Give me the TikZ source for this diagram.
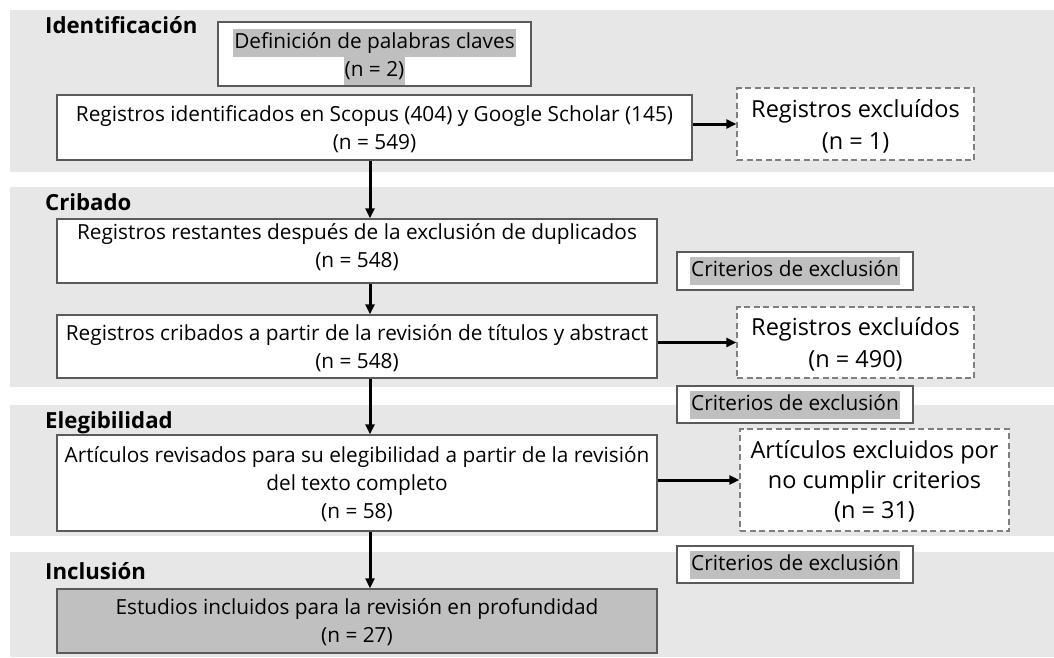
\documentclass[tikz,border=0pt]{standalone}
\usepackage{fontspec}
\setmainfont{Open Sans}
\usetikzlibrary{arrows.meta,calc}
\definecolor{band}{HTML}{E7E7E7}
\definecolor{hl}{HTML}{BFBFBF}
\definecolor{bord}{HTML}{5A5A5A}
\definecolor{dashc}{HTML}{7F7F7F}
\definecolor{estc}{HTML}{C0C0C0}
\newcommand{\hlt}[1]{{\setlength{\fboxsep}{0pt}\colorbox{hl}{\strut\kern1pt #1\kern1pt}}}
\begin{document}
\begin{tikzpicture}[x=1pt,y=-1pt,
  mainf/.style={font=\fontsize{20.8}{28}\selectfont},
  bigf/.style={font=\fontsize{23.5}{32}\selectfont},
  titlef/.style={font=\bfseries\fontsize{22.2}{25}\selectfont},
  box/.style={draw=bord, line width=1.3pt, fill=white, align=center, inner sep=0pt, mainf},
  dbox/.style={draw=dashc, line width=1.3pt, dash pattern=on 6pt off 3.5pt, fill=white, align=center, inner sep=0pt, bigf},
  arr/.style={-{Triangle[length=10pt,width=9pt]}, line width=3pt},
]
\useasboundingbox (0,0) rectangle (1054,657);
% bands
\fill[band] (10,10) rectangle (1054,172);
\fill[band] (10,187) rectangle (1054,387);
\fill[band] (10,405) rectangle (1054,536);
\fill[band] (10,552) rectangle (1054,657);
% titles
\node[titlef, anchor=base west, inner sep=0pt] (t1) at (45,33) {Identificación};
\node[titlef, anchor=base west, inner sep=0pt] (t2) at (45,210) {Cribado};
\node[titlef, anchor=base west, inner sep=0pt] (t3) at (45,428) {Elegibilidad};
\node[titlef, anchor=base west, inner sep=0pt] (t4) at (45,579) {Inclusión};
% column for vertical arrows
\coordinate (col) at (370,0);
% boxes
\node[box, text depth=3.4pt, minimum width=313, minimum height=64] (def) at (374.5,54) {\hlt{Definición de palabras claves}\\\hlt{(n = 2)}};
\node[box, text depth=-3pt, minimum width=635, minimum height=65] (reg) at (374.5,127.5) {Registros identificados en Scopus (404) y Google Scholar (145)\\(n = 549)};
\node[dbox, text depth=-2.4pt, minimum width=237, minimum height=72] (exc1) at (855.5,124) {Registros excluídos\\(n = 1)};
\node[box, text depth=10.2pt, minimum width=600, minimum height=64] (rest) at (357,251) {Registros restantes después de la exclusión de duplicados\\(n = 548)};
\node[box, minimum width=236, minimum height=38] (crit1) at (795,271) {\hlt{Criterios de exclusión}};
\node[box, text depth=-9pt, minimum width=600, minimum height=63] (crib) at (357,346.5) {Registros cribados a partir de la revisión de títulos y abstract\\(n = 548)};
\node[dbox, text depth=-0.4pt, minimum width=237, minimum height=71] (exc2) at (855.5,342.5) {Registros excluídos\\(n = 490)};
\node[box, minimum width=236, minimum height=37] (crit2) at (795,404.5) {\hlt{Criterios de exclusión}};
\node[box, text depth=-0.8pt, minimum width=600, minimum height=96] (art) at (357,483) {Artículos revisados para su elegibilidad a partir de la revisión\\del texto completo\\(n = 58)};
\node[dbox, text depth=1.6pt, minimum width=269, minimum height=102, font=\fontsize{23.5}{30}\selectfont] (exc3) at (874.5,480) {Artículos excluidos por\\no cumplir criterios\\(n = 31)};
\node[box, minimum width=236, minimum height=37] (crit3) at (795,564.5) {\hlt{Criterios de exclusión}};
\node[box, text depth=1.2pt, fill=estc, minimum width=600, minimum height=64] (est) at (357,621) {Estudios incluidos para la revisión en profundidad\\(n = 27)};
% arrows
\draw[arr] (reg.east |- exc1.west) -- (exc1.west);
\draw[arr] (crib.east |- exc2.west) -- (exc2.west);
\draw[arr] (art.east |- exc3.west) -- (exc3.west);
\draw[arr] (reg.south -| col) -- (rest.north -| col);
\draw[arr] (rest.south -| col) -- (crib.north -| col);
\draw[arr] (crib.south -| col) -- (art.north -| col);
\draw[arr] (art.south -| col) -- (est.north -| col);
\end{tikzpicture}
\end{document}
